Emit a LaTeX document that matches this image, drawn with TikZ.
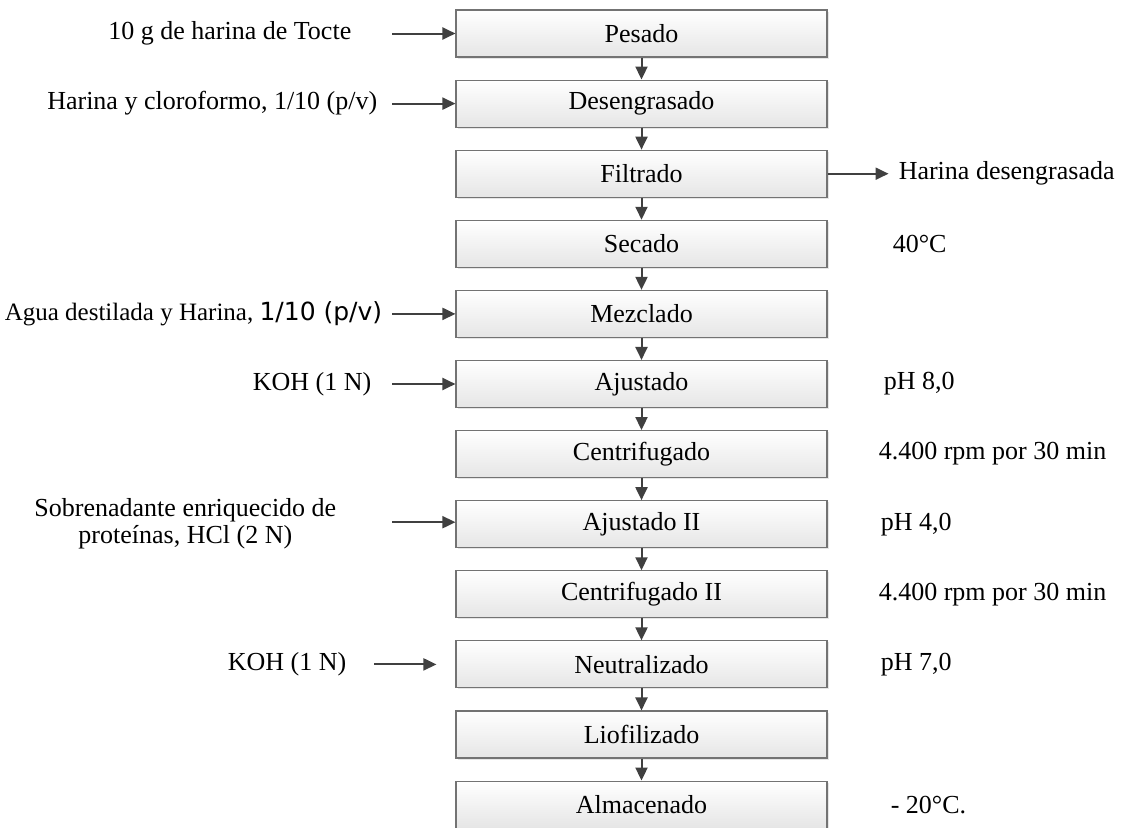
\documentclass[tikz,border=0pt]{standalone}
\usepackage{fontspec}
\setmainfont{Liberation Serif}
\newfontfamily\sansnum{DejaVu Sans}
\usetikzlibrary{positioning,shadows,arrows.meta}

\begin{document}
\begin{tikzpicture}[x=1pt,y=1pt,font=\fontsize{26}{31}\selectfont,
caja/.style={draw=black!55,line width=1.1pt,rectangle,minimum width=371pt,minimum height=47pt,
    top color=white,bottom color=black!10,
    drop shadow={shadow xshift=1.5pt,shadow yshift=-1.5pt,opacity=0.2}},
texto/.style={inner sep=0pt,align=center},
flecha/.style={draw=black!75,line width=2pt,-{Triangle[length=13pt,width=12pt]}}]
\useasboundingbox (0,0) rectangle (1126,-827);
% etapas del proceso
\node (pesado) [caja] at (641.5,-33.5) {Pesado};
\node (desengrasado) [caja,below=22pt of pesado] {Desengrasado};
\node (filtrado) [caja,below=22pt of desengrasado] {Filtrado};
\node (secado) [caja,below=22pt of filtrado] {Secado};
\node (mezclado) [caja,below=22pt of secado] {Mezclado};
\node (ajustado) [caja,below=22pt of mezclado] {Ajustado};
\node (centrifugado) [caja,below=22pt of ajustado] {Centrifugado};
\node (ajustadoii) [caja,below=22pt of centrifugado] {Ajustado II};
\node (centrifugadoii) [caja,below=22pt of ajustadoii] {Centrifugado II};
\node (neutralizado) [caja,below=22pt of centrifugadoii] {Neutralizado};
\node (liofilizado) [caja,below=22pt of neutralizado] {Liofilizado};
\node (almacenado) [caja,below=22pt of liofilizado] {Almacenado};

\foreach \a/\b in {pesado/desengrasado,desengrasado/filtrado,filtrado/secado,
    secado/mezclado,mezclado/ajustado,ajustado/centrifugado,centrifugado/ajustadoii,
    ajustadoii/centrifugadoii,centrifugadoii/neutralizado,neutralizado/liofilizado,
    liofilizado/almacenado}
    \draw [flecha] (\a) -- (\b);

% entradas
\node (tocte) [texto,left=104pt of pesado] {10 g de harina de Tocte};
\node (cloroformo) [texto,left=78pt of desengrasado] {Harina y cloroformo, 1/10 (p/v)};
\node (agua) [texto,left=73pt of mezclado,font=\fontsize{25}{30}\selectfont] {Agua destilada y Harina, {\sansnum 1/10 (p/v)}};
\node (koh) [texto,left=84pt of ajustado] {KOH (1 N)};
\node (sobrenadante) [texto,left=119pt of ajustadoii,font=\fontsize{26}{27}\selectfont] {Sobrenadante enriquecido de\\proteínas, HCl (2 N)};
\node (kohii) [texto,left=109pt of neutralizado] {KOH (1 N)};

\coordinate (e1) at ([xshift=-63pt]pesado.west);
\coordinate (e2) at ([xshift=-63pt]desengrasado.west);
\coordinate (e3) at ([xshift=-63pt]mezclado.west);
\coordinate (e4) at ([xshift=-63pt]ajustado.west);
\coordinate (e5) at ([xshift=-63pt,yshift=2pt]ajustadoii.west);
\coordinate (e6) at ([xshift=-81pt]neutralizado.west);
\coordinate (e6f) at ([xshift=-19pt]neutralizado.west);
\draw [flecha] (e1) -- (pesado.west);
\draw [flecha] (e2) -- (desengrasado.west);
\draw [flecha] (e3) -- (mezclado.west);
\draw [flecha] (e4) -- (ajustado.west);
\draw [flecha] (e5) -- (e5 -| ajustadoii.west);
\draw [flecha] (e6) -- (e6f);

% salidas y condiciones
\coordinate (s1) at ([xshift=61pt]filtrado.east);
\draw [flecha] (filtrado.east) -- (s1);
\node (desengrasada) [texto,right=71pt of filtrado] {Harina desengrasada};
\node (t40) [texto,right=65pt of secado] {40°C};
\node (ph8) [texto,right=56pt of ajustado] {pH 8,0};
\node (rpm) [texto,right=51pt of centrifugado] {4.400 rpm por 30 min};
\node (ph4) [texto,right=53pt of ajustadoii] {pH 4,0};
\node (rpmii) [texto,right=51pt of centrifugadoii] {4.400 rpm por 30 min};
\node (ph7) [texto,right=53pt of neutralizado] {pH 7,0};
\node (t20) [texto,right=63pt of almacenado] {- 20°C.};
\end{tikzpicture}
\end{document}
